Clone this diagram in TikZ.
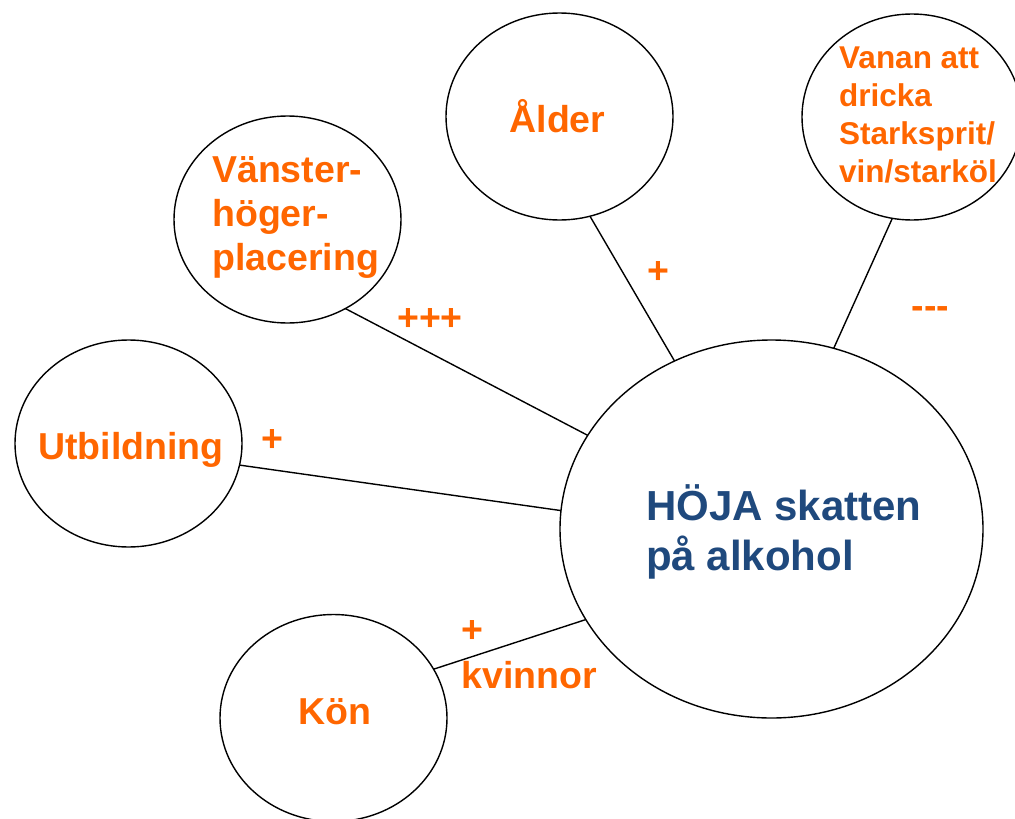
\documentclass[tikz,border=0pt]{standalone}
\usepackage{fontspec}
\setmainfont{Liberation Sans}
\usetikzlibrary{shapes.geometric}
\definecolor{org}{HTML}{FF6600}
\definecolor{navy}{HTML}{1F497D}
\begin{document}
\begin{tikzpicture}[x=1pt,y=-1pt,
  bub/.style={draw=black, line width=1.4pt, ellipse, minimum width=227pt, minimum height=207pt, inner sep=0pt, outer sep=0pt},
  lbl/.style={text=org, font=\bfseries\fontsize{37.5}{44}\selectfont, inner sep=0pt},
  link/.style={draw=black, line width=1.4pt}]
\clip (0,0) rectangle (1015,819);
% bubbles
\node[bub, minimum width=423pt, minimum height=378pt] (h) at (771.5,529) {};
\node[bub] (v) at (287.5,219.5) {};
\node[bub] (a) at (559.5,116.5) {};
\node[bub, minimum width=220pt, minimum height=206pt] (w) at (912,117) {};
\node[bub] (u) at (128.5,443.5) {};
\node[bub] (k) at (333.5,718) {};
% texts
\node[text=navy, font=\bfseries\fontsize{42}{50}\selectfont, inner sep=0pt, anchor=base west] (th) at (646,520)
  {\begin{tabular}[t]{@{}l@{}}HÖJA skatten\\på alkohol\end{tabular}};
\node[lbl, anchor=base west] (tv) at (212,182)
  {\begin{tabular}[t]{@{}l@{}}Vänster-\\höger-\\placering\end{tabular}};
\node[lbl, anchor=base] (ta) at (557.5,132) {Ålder};
\node[lbl, font=\bfseries\fontsize{31.5}{38.1}\selectfont, anchor=base west] (tw) at (839,68)
  {\begin{tabular}[t]{@{}l@{}}Vanan att\\dricka\\Starksprit/\\vin/starköl\end{tabular}};
\node[lbl, anchor=base west] (tu) at (38,459) {Utbildning};
\node[lbl, anchor=base] (tk) at (335,724) {Kön};
% connectors
\draw[link] (u.-11.7) -- (h.175.65);
\draw[link] (v.-57.3) -- (h.153.7);
\draw[link] (a.-73.4) -- (h.120.4);
\draw[link] (w.259.7) -- (h.71.8);
\draw[link] (k.26.9) -- (h.206.8);
% signs
\node[lbl, anchor=base] (su) at (272,451.5) {+};
\node[lbl, anchor=base] (sv) at (430,330) {+++};
\node[lbl, anchor=base] (sa) at (658,283.5) {+};
\node[lbl, anchor=base west] (sw) at (911.5,318.5) {-{}-{}-};
\node[lbl, font=\bfseries\fontsize{37.5}{45.5}\selectfont, anchor=base west] (sk) at (461.5,642.5)
  {\begin{tabular}[t]{@{}l@{}}+\\kvinnor\end{tabular}};
\end{tikzpicture}
\end{document}
